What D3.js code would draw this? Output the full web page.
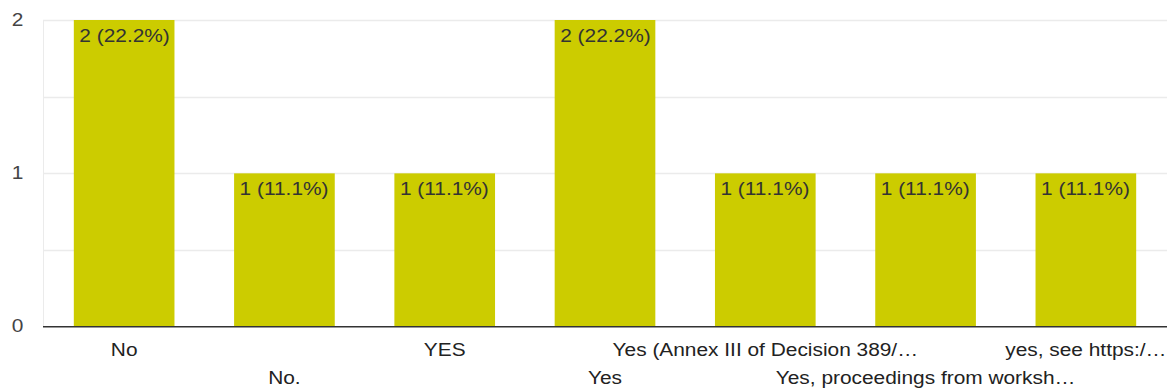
<!DOCTYPE html>
<html>
<head>
<meta charset="utf-8">
<script src="https://cdn.jsdelivr.net/npm/d3@7"></script>
<style>
  html, body { margin: 0; padding: 0; background: #fff; }
  svg { display: block; font-family: Arial, "Liberation Sans", sans-serif; }
</style>
</head>
<body>
<svg id="chart" width="1167" height="389"></svg>
<script>
// Responses per answer
const categories = [
  "No",
  "No.",
  "YES",
  "Yes",
  "Yes (Annex III of Decision 389/…",
  "Yes, proceedings from worksh…",
  "yes, see https:/…"
];
const counts = [2, 1, 1, 2, 1, 1, 1];
const percentLabels = ["22.2%", "11.1%", "11.1%", "22.2%", "11.1%", "11.1%", "11.1%"];
const yTicks = [0, 1, 2];
const gridValues = [0.5, 1, 1.5, 2];

const W = 1167, H = 389;
const margin = { left: 43, right: 1, top: 20, bottom: 63 };
const textStretch = 1.16;   // glyphs are drawn slightly wide
const svg = d3.select("#chart");

const x = d3.scaleBand()
  .domain(categories)
  .range([margin.left + 1, W - margin.right])
  .paddingInner(0.372)
  .paddingOuter(0.186);

const y = d3.scaleLinear()
  .domain([0, 2])
  .range([H - margin.bottom + 0.7, margin.top]);

// Grid
svg.append("g")
  .selectAll("line")
  .data(gridValues)
  .join("line")
  .attr("x1", margin.left)
  .attr("x2", W)
  .attr("y1", d => Math.round(y(d)) + 0.5)
  .attr("y2", d => Math.round(y(d)) + 0.5)
  .attr("stroke", "#ebebeb")
  .attr("stroke-width", 1.5);

svg.append("line")
  .attr("x1", margin.left + 0.5).attr("x2", margin.left + 0.5)
  .attr("y1", y(2)).attr("y2", y(0))
  .attr("stroke", "#ebebeb")
  .attr("stroke-width", 1);

// Bars
svg.append("g")
  .selectAll("rect")
  .data(categories)
  .join("rect")
  .attr("x", d => x(d))
  .attr("width", x.bandwidth())
  .attr("y", (d, i) => y(counts[i]))
  .attr("height", (d, i) => y(0) - y(counts[i]))
  .attr("fill", "#cccc00");

// Value labels inside bars
svg.append("g")
  .selectAll("text")
  .data(categories)
  .join("text")
  .attr("transform", (d, i) => `translate(${x(d) + 5.5},${y(counts[i]) + 21.5}) scale(${textStretch},1)`)
  .attr("font-size", 18)
  .attr("fill", "#333")
  .text((d, i) => `${counts[i]} (${percentLabels[i]})`);

// Baseline
svg.append("line")
  .attr("x1", margin.left).attr("x2", W)
  .attr("y1", y(0)).attr("y2", y(0))
  .attr("stroke", "#333")
  .attr("stroke-width", 1.5);

// Y tick labels
svg.append("g")
  .selectAll("text")
  .data(yTicks)
  .join("text")
  .attr("transform", d => `translate(17.5,${y(d) + 5.6}) scale(${textStretch},1)`)
  .attr("text-anchor", "middle")
  .attr("font-size", 18)
  .attr("fill", "#444")
  .text(d => d);

// X category labels, staggered over two rows
svg.append("g")
  .selectAll("text")
  .data(categories)
  .join("text")
  .attr("transform", (d, i) =>
    `translate(${x(d) + x.bandwidth() / 2},${i % 2 === 0 ? 355.5 : 384}) scale(${textStretch},1)`)
  .attr("text-anchor", "middle")
  .attr("font-size", 18)
  .attr("fill", "#222")
  .text(d => d);
</script>
</body>
</html>
